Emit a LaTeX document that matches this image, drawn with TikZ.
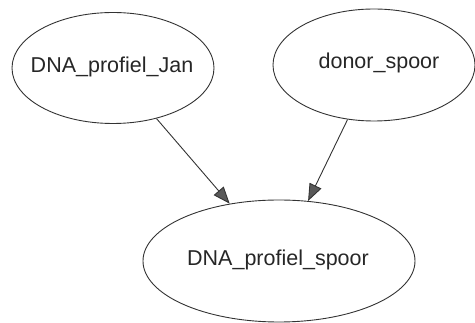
\documentclass[tikz,border=0pt]{standalone}
\usepackage{fontspec}
\setmainfont{Liberation Sans}
\usetikzlibrary{shapes.geometric,arrows.meta}
\begin{document}
\begin{tikzpicture}[x=1pt,y=-1pt,
  state/.style={draw=black!80, line width=0.9pt, ellipse, inner sep=0pt},
  lbl/.style={font=\fontsize{21.5}{24}\selectfont, text=black!85, inner sep=0pt},
  edge/.style={draw=black!80, line width=0.9pt,
    -{Triangle[length=17pt,width=13pt,fill=black!65]}}]
  \useasboundingbox (0,0) rectangle (475,323);

  % ellipses
  \node[state, minimum width=202pt, minimum height=111pt] (jan) at (113,68) {};
  \node[state, minimum width=202pt, minimum height=112pt] (donor) at (374,65) {};
  \node[state, minimum width=272pt, minimum height=122pt] (spoor) at (279,261) {};

  % labels
  \node[lbl] (janText) at (112,67) {DNA\_profiel\_Jan};
  \node[lbl] (donorText) at (379,63) {donor\_spoor};
  \node[lbl] (spoorText) at (278,260) {DNA\_profiel\_spoor};

  % dependencies
  \draw[edge] (jan) -- (spoor);
  \draw[edge] (donor) -- (spoor);
\end{tikzpicture}
\end{document}
